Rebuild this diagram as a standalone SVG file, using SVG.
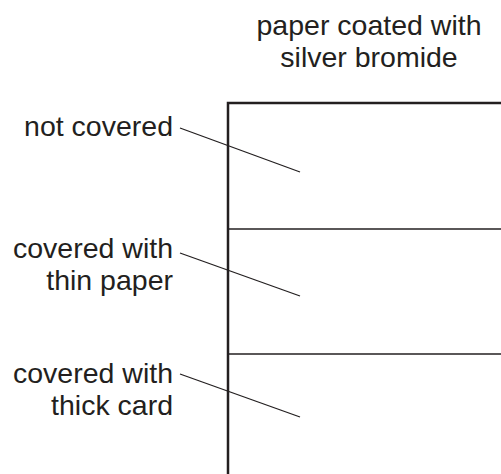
<svg xmlns="http://www.w3.org/2000/svg" width="501" height="474" viewBox="0 0 501 474">
<style>
text{font-family:"Liberation Sans",Arial,sans-serif;font-size:28.5px;fill:#231f20}
.r{text-anchor:end}
.m{text-anchor:middle}
.ln{stroke:#231f20;stroke-width:1.3;fill:none}
</style>
<rect width="501" height="474" fill="#fff"/>
<g id="paper">
<path d="M228,474 V103 H501" fill="none" stroke="#231f20" stroke-width="2.5"/>
<line x1="228" y1="229" x2="501" y2="229" stroke="#231f20" stroke-width="1.6"/>
<line x1="228" y1="354" x2="501" y2="354" stroke="#231f20" stroke-width="1.6"/>
</g>
<g id="title">
<text class="m" x="369" y="35">paper coated with</text>
<text class="m" x="369" y="67">silver bromide</text>
</g>
<g id="label1">
<text class="r" x="173" y="136">not covered</text>
</g>
<g id="label2">
<text class="r" x="173" y="258">covered with</text>
<text class="r" x="173" y="290">thin paper</text>
</g>
<g id="label3">
<text class="r" x="173" y="383">covered with</text>
<text class="r" x="173" y="415">thick card</text>
</g>
<g id="connectors">
<line class="ln" x1="180" y1="128" x2="300" y2="172"/>
<line class="ln" x1="180" y1="253" x2="300" y2="296"/>
<line class="ln" x1="180" y1="374" x2="300" y2="417"/>
</g>
</svg>
